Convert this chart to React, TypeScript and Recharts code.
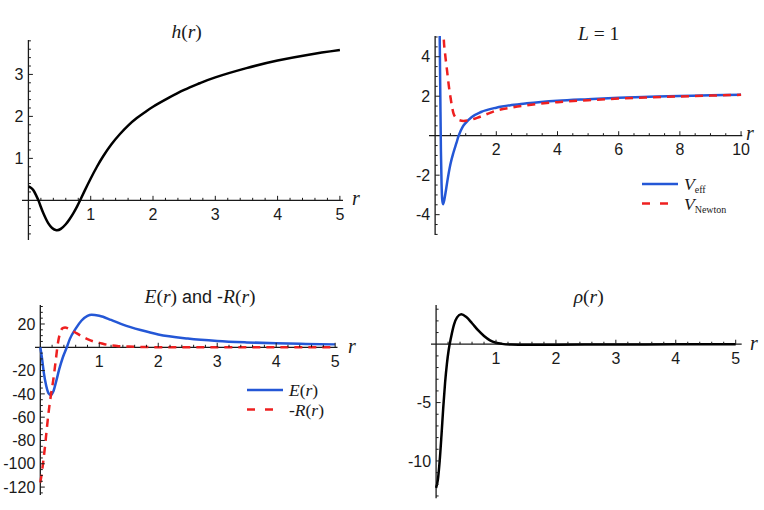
import { LineChart, Line, XAxis, YAxis, ReferenceLine, Legend } from 'recharts';

// h(r)
const hR = [0, 0.04, 0.08, 0.12, 0.16, 0.2, 0.24, 0.28, 0.32, 0.38, 0.45, 0.52, 0.6, 0.66, 0.72, 0.78, 0.83, 0.9, 1.0, 1.1, 1.2, 1.33, 1.47, 1.6, 1.74, 1.87, 2.0, 2.25, 2.5, 2.75, 3.0, 3.5, 4.0, 4.5, 5.0];
const hVal = [0.33, 0.3, 0.24, 0.13, 0.0, -0.16, -0.31, -0.44, -0.55, -0.66, -0.71, -0.68, -0.57, -0.45, -0.31, -0.15, 0.0, 0.22, 0.52, 0.8, 1.05, 1.33, 1.58, 1.78, 1.96, 2.1, 2.23, 2.44, 2.63, 2.79, 2.93, 3.15, 3.33, 3.47, 3.58];

// L = 1
const vEffR = [0.13, 0.15, 0.17, 0.19, 0.21, 0.23, 0.26, 0.3, 0.35, 0.4, 0.5, 0.6, 0.7, 0.77, 0.9, 1.0, 1.2, 1.5, 2, 2.5, 3, 4, 5, 6, 7, 8, 9, 10];
const vEffVal = [9, 5, 2, -0.8, -2.4, -3.2, -3.47, -3.25, -2.8, -2.3, -1.45, -0.85, -0.35, 0, 0.45, 0.65, 0.95, 1.2, 1.42, 1.55, 1.64, 1.77, 1.85, 1.92, 1.97, 2.01, 2.05, 2.08];
const vNewtonR = [0.26, 0.28, 0.33, 0.39, 0.45, 0.5, 0.55, 0.6, 0.7, 0.8, 0.93, 1.1, 1.37, 1.7, 2, 2.5, 3, 4, 5, 6, 7, 8, 9, 10];
const vNewtonVal = [7, 5, 4.1, 3.3, 2.5, 1.97, 1.5, 1.13, 0.88, 0.78, 0.75, 0.78, 0.9, 1.1, 1.27, 1.42, 1.54, 1.7, 1.8, 1.88, 1.94, 1.99, 2.03, 2.07];

// E(r) and -R(r)
const eR = [0, 0.03, 0.06, 0.1, 0.14, 0.18, 0.22, 0.27, 0.32, 0.38, 0.45, 0.5, 0.6, 0.7, 0.8, 0.87, 1.0, 1.2, 1.4, 1.7, 2.0, 2.5, 3.0, 3.5, 4.0, 4.5, 5.0];
const eVal = [0, -10, -22, -33, -39.5, -41, -38, -29, -19, -9, 0, 7, 16, 23, 27, 28, 27, 23.5, 19.5, 14.8, 11, 7.5, 5.4, 4.2, 3.4, 2.9, 2.5];
const negRR = [0, 0.02, 0.05, 0.08, 0.11, 0.14, 0.18, 0.22, 0.26, 0.3, 0.34, 0.38, 0.42, 0.48, 0.55, 0.62, 0.7, 0.8, 0.9, 1.0, 1.13, 1.3, 1.5, 2.0, 2.5, 3, 4, 5];
const negRVal = [-116, -110, -98, -85, -70, -56, -41, -28, -12, 4, 13, 16.5, 17, 16, 14, 12, 9.5, 7, 5, 3.8, 2.2, 1.2, 0.6, 0.1, 0, 0, 0, 0];

// rho(r)
const rhoR = [0, 0.03, 0.06, 0.09, 0.12, 0.15, 0.18, 0.21, 0.25, 0.3, 0.35, 0.42, 0.5, 0.6, 0.7, 0.8, 0.9, 1.0, 1.1, 1.25, 1.5, 2, 3, 4, 5];
const rhoVal = [-12.3, -11.6, -10.0, -7.8, -5.4, -3.3, -1.7, -0.5, 0.6, 1.7, 2.3, 2.56, 2.35, 1.8, 1.2, 0.7, 0.33, 0.13, 0.03, -0.03, -0.05, -0.04, -0.02, -0.01, 0];

const hMajorX = [1, 2, 3, 4, 5];
const hMajorY = [1, 2, 3];
const vMajorX = [2, 4, 6, 8, 10];
const vMajorY = [-4, -2, 2, 4];
const eMajorX = [1, 2, 3, 4, 5];
const eMajorY = [20, -20, -40, -60, -80, -100, -120];
const rhoMajorX = [1, 2, 3, 4, 5];
const rhoMajorY = [-5, -10];

const BLUE = '#2457d6';
const RED = '#ee2020';
const INK = '#1a1a1a';
const SANS = '"Liberation Sans", Arial, sans-serif';
const SERIF = '"Liberation Serif", "Times New Roman", serif';

const toPts = (rs: number[], vs: number[]) => rs.map((r, i) => ({ r, v: vs[i] }));

const minorTicks = (lo: number, hi: number, step: number) => {
  const out: number[] = [];
  for (let k = Math.ceil(lo / step); k * step <= hi + 1e-9; k++) {
    const t = Math.round(k * step * 1000) / 1000;
    if (t !== 0) out.push(t);
  }
  return out;
};

type Series = {
  name: string;
  data: { r: number; v: number }[];
  color: string;
  dash?: string;
  curve?: 'monotone' | 'natural';
};
type Box = { left: number; right: number; top: number; bottom: number };

interface PanelProps {
  box: Box;
  xDomain: [number, number];
  yDomain: [number, number];
  xMajor: number[];
  xStep: number;
  yMajor: number[];
  yStep: number;
  series: Series[];
  legend?: { x: number; y: number; labels: Record<string, any> };
}

const M = 45;

function Panel({ box, xDomain, yDomain, xMajor, xStep, yMajor, yStep, series, legend }: PanelProps) {
  const w = box.right - box.left;
  const h = box.bottom - box.top;
  const zeroY = M + (h * yDomain[1]) / (yDomain[1] - yDomain[0]);
  const zeroX = M + (w * -xDomain[0]) / (xDomain[1] - xDomain[0]);
  const isMajor = (v: number, list: number[]) => list.some((m) => Math.abs(m - v) < 1e-6);

  const xTicks = minorTicks(xDomain[0], xDomain[1], xStep);
  const yTicks = minorTicks(yDomain[0], yDomain[1], yStep);

  const XTick = (p: any) => {
    const v = p.payload.value;
    const major = isMajor(v, xMajor);
    return (
      <g>
        <line x1={p.x} x2={p.x} y1={zeroY} y2={zeroY - (major ? 4.5 : 2.5)} stroke={INK} strokeWidth={1} />
        {major && (
          <text x={p.x} y={zeroY + 19.5} textAnchor="middle" fontFamily={SANS} fontSize={16} fill={INK}>
            {v}
          </text>
        )}
      </g>
    );
  };

  const YTick = (p: any) => {
    const v = p.payload.value;
    const major = isMajor(v, yMajor);
    return (
      <g>
        <line x1={zeroX} x2={zeroX + (major ? 4.5 : 2.5)} y1={p.y} y2={p.y} stroke={INK} strokeWidth={1} />
        {major && (
          <text x={zeroX - 5} y={p.y + 5.7} textAnchor="end" fontFamily={SANS} fontSize={16} fill={INK}>
            {v}
          </text>
        )}
      </g>
    );
  };

  // legend follows the series order, colours come from the legend payload
  const renderLegend = (props: any) => {
    const payload = props.payload || [];
    return (
      <svg width={140} height={50} style={{ overflow: 'visible' }}>
        {series.map((s, i) => {
          const entry = payload.find((e: any) => e.value === s.name);
          const y = 6 + i * 19.5;
          return (
            <g key={s.name}>
              <line x1={0} x2={36} y1={y} y2={y} stroke={entry?.color ?? s.color} strokeWidth={2.5} strokeDasharray={s.dash ? '8 10' : undefined} />
              <text x={42} y={y + 6} fontFamily={SERIF} fontSize={17.5} fill={INK}>
                {legend!.labels[s.name]}
              </text>
            </g>
          );
        })}
      </svg>
    );
  };

  return (
    <div style={{ position: 'absolute', left: box.left - M, top: box.top - M }}>
      <LineChart width={w + 2 * M} height={h + 2 * M} margin={{ top: M, right: M, bottom: M - 1, left: M - 1 }}>
        <XAxis
          type="number"
          dataKey="r"
          domain={xDomain}
          allowDataOverflow
          ticks={xTicks}
          interval={0}
          height={1}
          axisLine={false}
          tickLine={false}
          tick={XTick}
        />
        <YAxis
          type="number"
          dataKey="v"
          domain={yDomain}
          allowDataOverflow
          ticks={yTicks}
          interval={0}
          width={1}
          axisLine={false}
          tickLine={false}
          tick={YTick}
        />
        <ReferenceLine y={0} stroke={INK} strokeWidth={1.3} />
        <ReferenceLine x={0} stroke={INK} strokeWidth={1.3} />
        {series.map((s) => (
          <Line
            key={s.name}
            name={s.name}
            data={s.data}
            dataKey="v"
            type={s.curve ?? 'monotone'}
            dot={false}
            stroke={s.color}
            strokeWidth={2.5}
            strokeDasharray={s.dash}
            isAnimationActive={false}
          />
        ))}
        {legend && (
          <Legend
            layout="vertical"
            align="center"
            verticalAlign="middle"
            content={renderLegend}
            wrapperStyle={{ left: legend.x - (box.left - M), top: legend.y - (box.top - M), width: 140, height: 50 }}
          />
        )}
      </LineChart>
    </div>
  );
}

const it = { fontStyle: 'italic' as const };

export default function App() {
  return (
    <div style={{ position: 'absolute', left: 0, top: 0, width: 764, height: 510, background: '#fff', overflow: 'hidden' }}>
      <Panel
        box={{ left: 22, right: 343, top: 40, bottom: 240 }}
        xDomain={[-0.103, 5.05]}
        yDomain={[-0.945, 3.82]}
        xMajor={hMajorX}
        xStep={0.2}
        yMajor={hMajorY}
        yStep={0.2}
        series={[{ name: 'h', data: toPts(hR, hVal), color: '#000', curve: 'natural' }]}
      />
      <Panel
        box={{ left: 428.7, right: 742, top: 36, bottom: 235 }}
        xDomain={[-0.2, 10.04]}
        yDomain={[-5.03, 5.05]}
        xMajor={vMajorX}
        xStep={0.5}
        yMajor={vMajorY}
        yStep={0.5}
        series={[
          { name: 'Veff', data: toPts(vEffR, vEffVal), color: BLUE },
          { name: 'VNewton', data: toPts(vNewtonR, vNewtonVal), color: RED, dash: '8 6' },
        ]}
        legend={{
          x: 642,
          y: 177.5,
          labels: {
            Veff: (
              <>
                <tspan style={it}>V</tspan>
                <tspan fontSize={10} dy={3}>eff</tspan>
              </>
            ),
            VNewton: (
              <>
                <tspan style={it}>V</tspan>
                <tspan fontSize={10} dy={3}>Newton</tspan>
              </>
            ),
          },
        }}
      />
      <Panel
        box={{ left: 35, right: 337.5, top: 305, bottom: 495 }}
        xDomain={[-0.09, 5.04]}
        yDomain={[-126.8, 36.3]}
        xMajor={eMajorX}
        xStep={0.2}
        yMajor={eMajorY}
        yStep={5}
        series={[
          { name: 'E', data: toPts(eR, eVal), color: BLUE },
          { name: 'negR', data: toPts(negRR, negRVal), color: RED, dash: '8 6' },
        ]}
        legend={{
          x: 246.7,
          y: 384,
          labels: {
            E: (
              <>
                <tspan style={it}>E</tspan>(<tspan style={it}>r</tspan>)
              </>
            ),
            negR: (
              <>
                -<tspan style={it}>R</tspan>(<tspan style={it}>r</tspan>)
              </>
            ),
          },
        }}
      />
      <Panel
        box={{ left: 431.3, right: 742, top: 305, bottom: 498.3 }}
        xDomain={[-0.085, 5.1]}
        yDomain={[-13.2, 3.36]}
        xMajor={rhoMajorX}
        xStep={0.2}
        yMajor={rhoMajorY}
        yStep={1}
        series={[{ name: 'rho', data: toPts(rhoR, rhoVal), color: '#000' }]}
      />

      <svg width={764} height={510} style={{ position: 'absolute', left: 0, top: 0, pointerEvents: 'none' }}>
        <g fontFamily={SERIF} fontSize={19.5} fill={INK} textAnchor="middle">
          <text x={186.7} y={38}>
            <tspan style={it}>h</tspan>(<tspan style={it}>r</tspan>)
          </text>
          <text x={598.7} y={39.5}>
            <tspan style={it}>L</tspan> = 1
          </text>
          <text x={200} y={303}>
            <tspan style={it}>E</tspan>(<tspan style={it}>r</tspan>)
            <tspan fontFamily={SANS} fontSize={18}> and -</tspan>
            <tspan style={it}>R</tspan>(<tspan style={it}>r</tspan>)
          </text>
          <text x={588.7} y={303}>
            <tspan style={it}>ρ</tspan>(<tspan style={it}>r</tspan>)
          </text>
        </g>
        <g fontFamily={SERIF} fontSize={20} fill={INK} fontStyle="italic">
          <text x={352} y={205}>r</text>
          <text x={746} y={140}>r</text>
          <text x={348} y={353}>r</text>
          <text x={750} y={350}>r</text>
        </g>
      </svg>
    </div>
  );
}
